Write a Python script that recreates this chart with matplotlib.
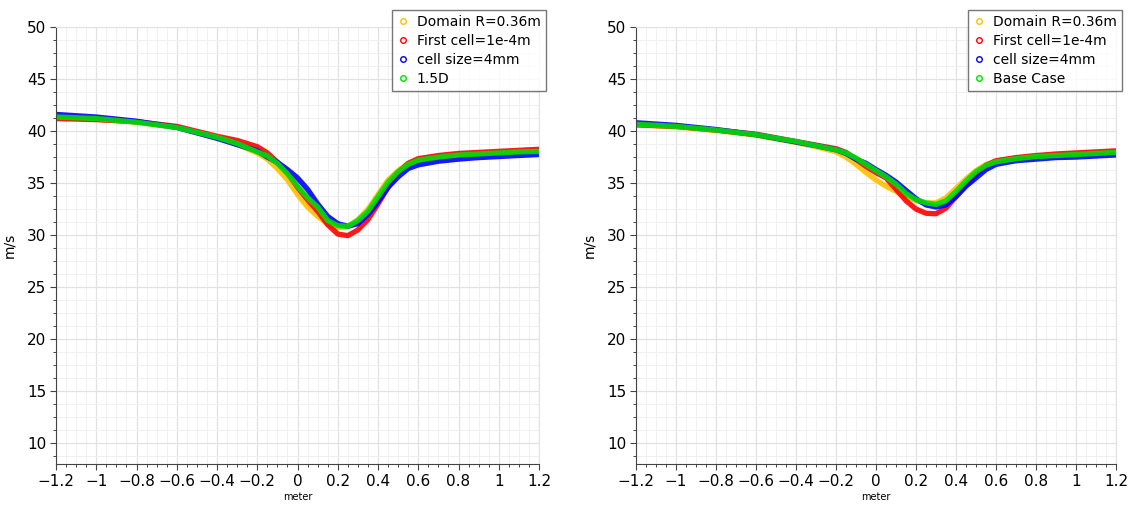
import matplotlib.pyplot as plt
from matplotlib.lines import Line2D
from matplotlib.ticker import MultipleLocator, FuncFormatter

# shared x positions (meter)
x_pos = [-1.2, -1.0, -0.8, -0.6, -0.4, -0.3, -0.2, -0.15, -0.1, -0.05, 0.0, 0.05, 0.1, 0.15,
         0.2, 0.25, 0.3, 0.35, 0.4, 0.45, 0.5, 0.55, 0.6, 0.7, 0.8, 0.9, 1.0, 1.1, 1.2]

# left panel
left_domain = [41.3, 41.15, 40.85, 40.35, 39.35, 38.7, 37.9, 37.3, 36.4, 35.3, 33.9, 32.7, 31.8, 31.1,
               30.7, 30.8, 31.5, 32.5, 33.9, 35.3, 36.2, 36.9, 37.25, 37.55, 37.75, 37.85, 37.95, 38.0, 38.1]
left_first = [41.2, 41.1, 40.9, 40.45, 39.5, 39.1, 38.5, 37.9, 37.0, 36.0, 34.6, 33.4, 32.3, 31.0,
              30.1, 29.95, 30.5, 31.5, 33.0, 34.6, 36.0, 36.9, 37.35, 37.65, 37.85, 37.95, 38.05, 38.15, 38.25]
left_cell = [41.6, 41.35, 40.95, 40.35, 39.3, 38.7, 38.1, 37.5, 37.0, 36.3, 35.5, 34.4, 33.0, 31.8,
             31.1, 30.85, 31.1, 32.0, 33.2, 34.6, 35.6, 36.4, 36.75, 37.1, 37.3, 37.45, 37.55, 37.65, 37.75]
left_15d = [41.35, 41.2, 40.85, 40.35, 39.4, 38.8, 38.0, 37.6, 36.9, 35.9, 34.7, 33.6, 32.7, 31.4,
            30.9, 30.85, 31.4, 32.3, 33.7, 35.1, 36.1, 36.8, 37.2, 37.5, 37.7, 37.8, 37.9, 38.0, 38.05]

# right panel
right_domain = [40.6, 40.4, 40.05, 39.6, 38.9, 38.5, 38.0, 37.5, 36.8, 36.0, 35.3, 34.7, 34.2, 33.7,
                33.3, 33.1, 33.1, 33.6, 34.5, 35.4, 36.2, 36.8, 37.1, 37.4, 37.55, 37.65, 37.75, 37.85, 37.95]
right_first = [40.6, 40.45, 40.1, 39.7, 39.0, 38.65, 38.3, 37.95, 37.3, 36.6, 36.0, 35.5, 34.4, 33.3,
               32.5, 32.1, 32.05, 32.6, 33.7, 34.8, 35.8, 36.7, 37.15, 37.45, 37.65, 37.8, 37.9, 38.0, 38.1]
right_cell = [40.8, 40.55, 40.15, 39.65, 38.95, 38.6, 38.2, 37.85, 37.3, 36.9, 36.3, 35.75, 35.1, 34.3,
              33.5, 32.9, 32.7, 32.9, 33.7, 34.7, 35.5, 36.3, 36.8, 37.15, 37.3, 37.45, 37.5, 37.6, 37.7]
right_base = [40.65, 40.45, 40.1, 39.65, 39.0, 38.6, 38.2, 37.9, 37.4, 36.8, 36.2, 35.6, 34.9, 34.0,
              33.4, 33.1, 32.95, 33.3, 34.2, 35.2, 36.1, 36.7, 37.05, 37.35, 37.55, 37.65, 37.75, 37.85, 37.95]

colors = ['#ffc000', '#ff0000', '#0000ff', '#00e000']
left_labels = ['Domain R=0.36m', 'First cell=1e-4m', 'cell size=4mm', '1.5D']
right_labels = ['Domain R=0.36m', 'First cell=1e-4m', 'cell size=4mm', 'Base Case']

fig = plt.figure(figsize=(11.36, 5.07), dpi=100)
ax1 = fig.add_axes([0.0493, 0.0848, 0.4252, 0.8619])
ax2 = fig.add_axes([0.5599, 0.0848, 0.4225, 0.8619])


def fmt(v, pos):
    s = '%g' % round(v, 2)
    return s.replace('-', '\u2212')


def setup(ax, series, labels, legend_x):
    for ys, c in zip(series, colors):
        ax.plot(x_pos, ys, color=c, lw=3.8, alpha=0.9, solid_capstyle='round')
    ax.set_xlim(-1.2, 1.2)
    ax.set_ylim(8, 50)
    ax.xaxis.set_major_locator(MultipleLocator(0.2))
    ax.xaxis.set_minor_locator(MultipleLocator(0.05))
    ax.yaxis.set_major_locator(MultipleLocator(5))
    ax.yaxis.set_minor_locator(MultipleLocator(1.25))
    ax.xaxis.set_major_formatter(FuncFormatter(fmt))
    ax.grid(which='major', color='#e2e2e2', lw=0.9)
    ax.grid(which='minor', color='#f0f0f0', lw=0.7)
    ax.set_axisbelow(True)
    ax.tick_params(which='major', length=4, width=0.8, color='#444444', labelsize=11, pad=3)
    ax.tick_params(which='minor', length=2, width=0.7, color='#444444')
    for sp in ['left', 'bottom']:
        ax.spines[sp].set_color('#444444')
    for sp in ['top', 'right']:
        ax.spines[sp].set_color('#e2e2e2')
    ax.set_ylabel('m/s', fontsize=10, labelpad=8)
    ax.set_xlabel('meter', fontsize=7)
    ax.xaxis.set_label_coords(0.5, -0.064)
    handles = [Line2D([], [], ls='none', marker='o', markersize=4, markerfacecolor='none',
                      markeredgecolor=c, markeredgewidth=1.0) for c in colors]
    leg = ax.legend(handles, labels, loc='upper right', bbox_to_anchor=legend_x,
                    fontsize=10, frameon=True, fancybox=False, handlelength=0.8,
                    handletextpad=0.6, borderpad=0.4, labelspacing=0.35, borderaxespad=0)
    leg.get_frame().set_edgecolor('#555555')
    leg.get_frame().set_linewidth(1.0)


setup(ax1, [left_domain, left_first, left_cell, left_15d], left_labels, (1.015, 1.04))
setup(ax2, [right_domain, right_first, right_cell, right_base], right_labels, (1.013, 1.04))

fig.savefig('out.png', dpi=100)
